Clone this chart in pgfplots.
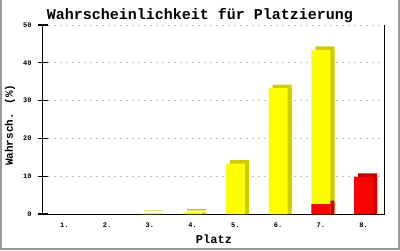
\documentclass[border=0pt]{standalone}
\usepackage{fontspec}
\setmainfont{Liberation Mono}
\usepackage{pgfplots}
\pgfplotsset{compat=1.18}
\definecolor{ylw}{HTML}{FFFF00}
\definecolor{dylw}{HTML}{CCCC00}
\definecolor{rd}{HTML}{FF0000}
\definecolor{drd}{HTML}{CC0000}
\definecolor{gridc}{HTML}{C0C0C0}
\definecolor{framec}{HTML}{999999}
\begin{document}
\begin{tikzpicture}
\useasboundingbox (-43pt,-36pt) rectangle (357pt,214pt);
\draw[framec, line width=2pt] (-42pt,214pt) -- (-42pt,-35pt) -- (356pt,-35pt) -- (356pt,214pt);
\begin{axis}[
  at={(0pt,0pt)}, anchor=south west,
  scale only axis, width=342pt, height=189pt,
  xmin=0.5, xmax=8.5, ymin=0, ymax=50,
  xtick={1,...,8}, xticklabels={1.,2.,3.,4.,5.,6.,7.,8.},
  ytick={0,10,...,50},
  axis x line*=bottom, axis y line*=left,
  axis line style={line width=1pt, black},
  ymajorgrids, grid style={gridc, line width=1pt, dash pattern=on 2pt off 4pt, dash phase=-5pt},
  major tick length=10pt,
  xtick style={draw=none},
  ytick style={draw=black, line width=1.2pt},
  ytick align=center,
  tick label style={font=\bfseries\fontsize{7}{8}\selectfont},
  xticklabel style={yshift=-5pt},
  yticklabel style={xshift=-3pt},
  /pgf/number format/assume math mode=true,
  title={Wahrscheinlichkeit für Platzierung},
  title style={at={(axis description cs:0.459,1)}, anchor=base, yshift=0pt, font=\bfseries\fontsize{15}{18}\selectfont},
  xlabel={Platz},
  xlabel style={at={(axis description cs:0.5,0)}, anchor=base, yshift=-29pt, font=\bfseries\fontsize{12}{14}\selectfont},
  ylabel={Wahrsch. (\%)},
  ylabel style={at={(axis description cs:-0.0965,0.47)}, anchor=center, font=\bfseries\fontsize{11}{13}\selectfont},
]
% dark depth faces (yellow)
\addplot[ybar, bar width=19pt, bar shift=4pt, fill=dylw, draw=none] coordinates {(3,0.1) (4,0.4) (5,13.3) (6,33.3) (7,43.4)};
\addplot[ybar, bar width=19pt, bar shift=4pt, fill=dylw, draw=none, yshift=3.5pt] coordinates {(3,0.1) (4,0.4) (5,13.3) (6,33.3) (7,43.4)};
% dark depth faces (red)
\addplot[ybar, bar width=19pt, bar shift=4pt, fill=drd, draw=none] coordinates {(7,2.6) (8,9.8)};
\addplot[ybar, bar width=19pt, bar shift=4pt, fill=drd, draw=none, yshift=3.5pt] coordinates {(7,2.6) (8,9.8)};
% front faces
\addplot[ybar, bar width=19pt, bar shift=0pt, fill=ylw, draw=none] coordinates {(3,0.1) (4,0.4) (5,13.3) (6,33.3) (7,43.4)};
\addplot[ybar, bar width=19pt, bar shift=0pt, fill=rd, draw=none] coordinates {(7,2.6) (8,9.8)};
\draw[black, line width=1pt] (rel axis cs:1,0) -- (rel axis cs:1,1);
\end{axis}
\end{tikzpicture}
\end{document}
